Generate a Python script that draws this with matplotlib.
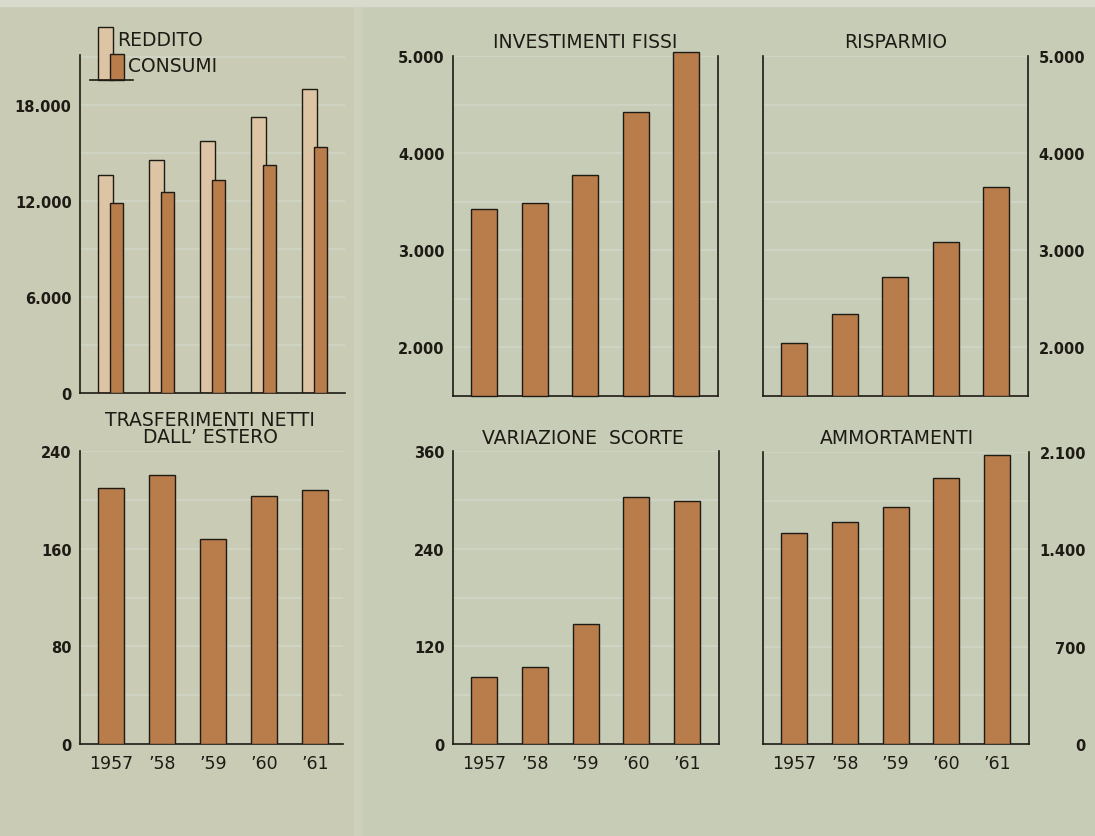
import matplotlib
matplotlib.use("Agg")
import matplotlib.pyplot as plt
import numpy as np
from matplotlib.patches import Rectangle
from matplotlib.lines import Line2D

plt.rc('font', family=['DejaVu Sans'])

# Data
years = ['1957', '\u201958', '\u201959', '\u201960', '\u201961']
reddito = [13600, 14550, 15750, 17250, 19000]
consumi = [11900, 12550, 13300, 14250, 15400]
trasferimenti = [210, 220, 168, 203, 208]
investimenti = [3430, 3485, 3775, 4425, 5040]
risparmio = [2050, 2340, 2730, 3090, 3650]
scorte = [82, 95, 148, 304, 299]
ammortamenti = [1515, 1600, 1705, 1910, 2080]

BG = '#c7ccb7'
BAR = '#b97c4b'
LIGHT = '#dcc4a4'
INK = '#1e1a14'
GRID = '#cfd3c1'

W, H = 1095, 837
TITLE_FS = 13.5


def box(x0, x1, ytop, ybot):
    return [x0 / W, 1 - ybot / H, (x1 - x0) / W, (ybot - ytop) / H]


def fx(x):
    return x / W


def fy(y):
    return 1 - y / H


def fmt(v):
    return '{:,}'.format(v).replace(',', '.')


def setup(ax, ylim, ticks, grid_step, right=False, xlabels=False, right_spine=True):
    ax.set_facecolor('none')
    ax.set_ylim(*ylim)
    ax.spines['top'].set_visible(False)
    ax.spines['right'].set_visible(right_spine)
    for side in ['left', 'bottom', 'right']:
        ax.spines[side].set_color(INK)
        ax.spines[side].set_linewidth(1.2)
    ax.set_yticks(ticks)
    ax.set_yticklabels([fmt(t) for t in ticks])
    ax.set_yticks(np.arange(ylim[0], ylim[1] + 1, grid_step), minor=True)
    ax.yaxis.grid(True, which='both', color=GRID, linewidth=1.6, zorder=0)
    ax.set_axisbelow(True)
    ax.tick_params(axis='y', which='both', length=0, labelsize=10.5, colors=INK)
    if right:
        ax.yaxis.tick_right()
        ax.tick_params(axis='y', pad=41)
        for lab in ax.get_yticklabels():
            lab.set_horizontalalignment('right')
    else:
        ax.tick_params(axis='y', pad=6)
    for lab in ax.get_yticklabels():
        lab.set_fontweight('bold')
    ax.set_xticks(range(5))
    if xlabels:
        ax.set_xticklabels(years)
        ax.tick_params(axis='x', length=0, labelsize=12.5, pad=7, colors=INK)
    else:
        ax.tick_params(axis='x', length=0, labelbottom=False)


fig = plt.figure(figsize=(W / 100, H / 100), dpi=100, facecolor=BG)

# paper background tones
fig.patches.append(Rectangle((0, 0), fx(356), 1, transform=fig.transFigure,
                             color='#c9cbb4', zorder=-3))
fig.patches.append(Rectangle((fx(354), 0), fx(8), 1, transform=fig.transFigure,
                             color='#ccd0bd', zorder=-2))
fig.patches.append(Rectangle((0, fy(7)), 1, fy(0) - fy(7), transform=fig.transFigure,
                             color='#d8dacb', zorder=-2))

x = np.arange(5)

# REDDITO / CONSUMI
ax1 = fig.add_axes(box(80, 345, 56, 394))
ax1.bar(x, reddito, width=0.29, color=LIGHT, edgecolor=INK, linewidth=1.0, zorder=2)
ax1.bar(x + 0.216, consumi, width=0.255, color=BAR, edgecolor=INK, linewidth=1.0, zorder=3)
ax1.set_xlim(-0.5, 4.7)
setup(ax1, (0, 21125), [0, 6000, 12000, 18000], 3000, right_spine=False)

# legend drawn by hand
fig.patches.append(Rectangle((fx(98), fy(81)), fx(15), fy(28) - fy(81),
                             transform=fig.transFigure, facecolor=LIGHT,
                             edgecolor=INK, linewidth=1.0))
fig.patches.append(Rectangle((fx(109.5), fy(81)), fx(14), fy(55) - fy(81),
                             transform=fig.transFigure, facecolor=BAR,
                             edgecolor=INK, linewidth=1.0))
fig.lines.append(Line2D([fx(90), fx(133)], [fy(81), fy(81)],
                        transform=fig.transFigure, color=INK, linewidth=1.2))
fig.text(fx(117), fy(41), 'REDDITO', fontsize=TITLE_FS, color=INK, va='center', ha='left')
fig.text(fx(128), fy(67), 'CONSUMI', fontsize=TITLE_FS, color=INK, va='center', ha='left')

# TRASFERIMENTI NETTI DALL' ESTERO
ax2 = fig.add_axes(box(80, 343, 452, 745))
ax2.bar(x, trasferimenti, width=0.51, color=BAR, edgecolor=INK, linewidth=1.0, zorder=3)
ax2.set_xlim(-0.61, 4.55)
setup(ax2, (0, 240), [0, 80, 160, 240], 40, xlabels=True, right_spine=False)
fig.text(fx(210), fy(429), 'TRASFERIMENTI NETTI\nDALL\u2019 ESTERO', fontsize=TITLE_FS,
         color=INK, ha='center', va='center', linespacing=0.85)

# INVESTIMENTI FISSI (axis starts at 1.500)
base = 1500
ax3 = fig.add_axes(box(453, 718, 57, 397))
ax3.bar(x, np.array(investimenti) - base, bottom=base, width=0.51, color=BAR,
        edgecolor=INK, linewidth=1.0, zorder=3, clip_on=False)
ax3.set_xlim(-0.62, 4.63)
setup(ax3, (base, 5000), [2000, 3000, 4000, 5000], 500)
fig.text(fx(585), fy(42), 'INVESTIMENTI FISSI', fontsize=TITLE_FS, color=INK,
         ha='center', va='center')

# RISPARMIO
ax4 = fig.add_axes(box(763, 1028, 57, 397))
ax4.bar(x, np.array(risparmio) - base, bottom=base, width=0.51, color=BAR,
        edgecolor=INK, linewidth=1.0, zorder=3)
ax4.set_xlim(-0.62, 4.63)
setup(ax4, (base, 5000), [2000, 3000, 4000, 5000], 500, right=True)
fig.text(fx(896), fy(42), 'RISPARMIO', fontsize=TITLE_FS, color=INK,
         ha='center', va='center')

# VARIAZIONE SCORTE
ax5 = fig.add_axes(box(453, 719, 452, 745))
ax5.bar(x, scorte, width=0.51, color=BAR, edgecolor=INK, linewidth=1.0, zorder=3)
ax5.set_xlim(-0.62, 4.63)
setup(ax5, (0, 360), [0, 120, 240, 360], 60, xlabels=True)
fig.text(fx(583), fy(438), 'VARIAZIONE  SCORTE', fontsize=TITLE_FS, color=INK,
         ha='center', va='center')

# AMMORTAMENTI
ax6 = fig.add_axes(box(763, 1029, 453, 745))
ax6.bar(x, ammortamenti, width=0.51, color=BAR, edgecolor=INK, linewidth=1.0, zorder=3)
ax6.set_xlim(-0.62, 4.63)
setup(ax6, (0, 2100), [0, 700, 1400, 2100], 350, right=True, xlabels=True)
fig.text(fx(897), fy(438), 'AMMORTAMENTI', fontsize=TITLE_FS, color=INK,
         ha='center', va='center')

fig.savefig('out.png', dpi=100, facecolor=BG)
